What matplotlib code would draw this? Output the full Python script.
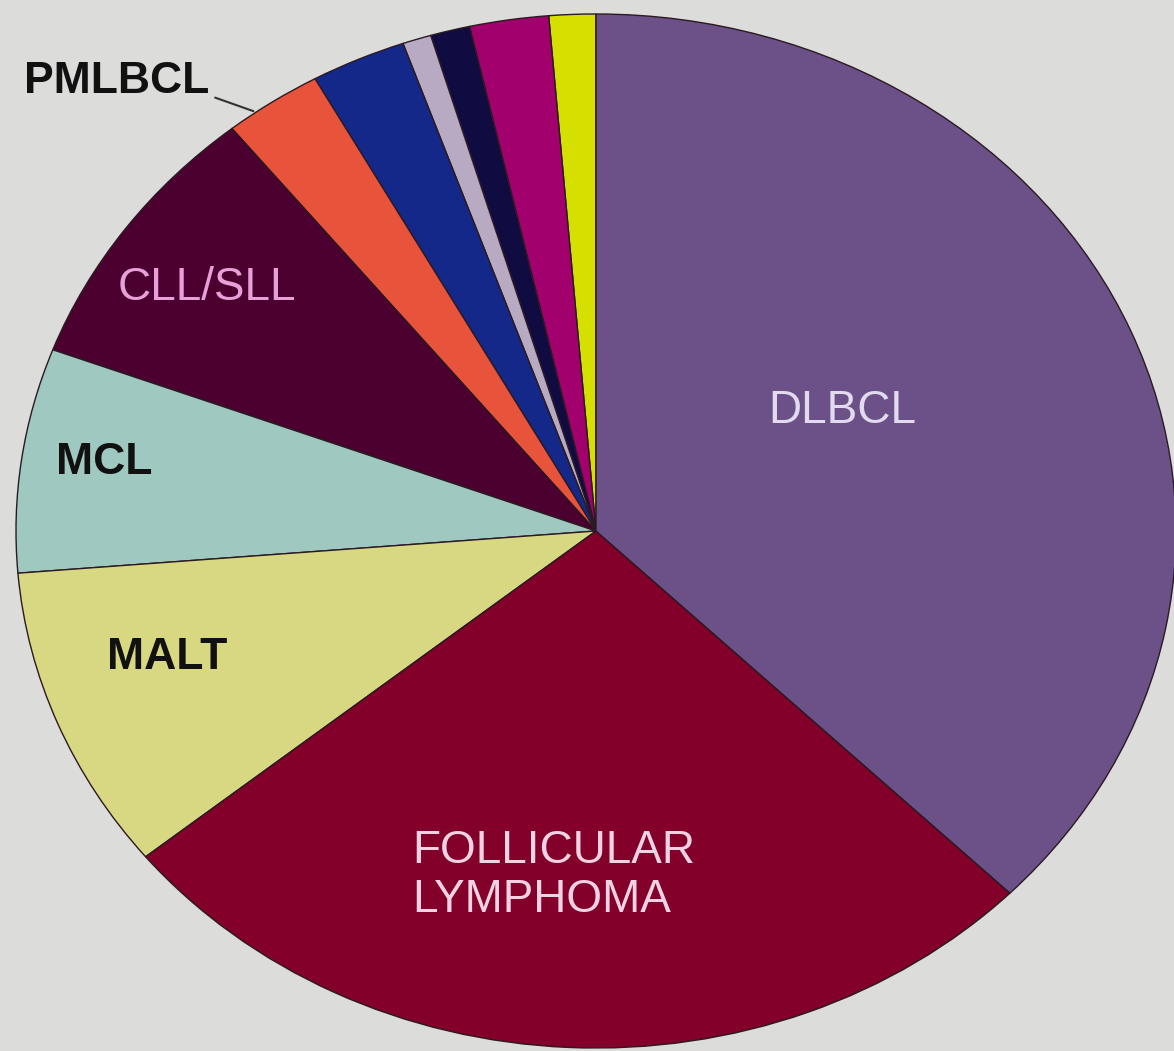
import numpy as np
import matplotlib
matplotlib.use("Agg")
import matplotlib.pyplot as plt

# lymphoma subtypes, percent of cases
# order: counter-clockwise from 12 o'clock
subtypes = ["other1", "other2", "other3", "other4", "other5",
            "PMLBCL", "CLL/SLL", "MCL", "MALT", "FOLLICULAR\nLYMPHOMA", "DLBCL"]
shares = [1.3, 2.2, 1.1, 0.8, 2.65, 2.75, 8.5, 7.0, 9.55, 26.8, 37.35]
colors = ["#d6e000", "#a2006c", "#100c42", "#b8aac2", "#14288a",
          "#e8533c", "#4b0030", "#9ec8c0", "#d8d882", "#82002a", "#6c5189"]

plt.rcParams['font.family'] = ['Liberation Sans', 'DejaVu Sans']

fig = plt.figure(figsize=(11.74, 10.51), dpi=100)
fig.patch.set_facecolor("#dcdcda")
ax = fig.add_axes([0, 0, 1, 1])
ax.set_facecolor("#dcdcda")

wedges, _ = ax.pie(shares, colors=colors, startangle=90, counterclock=True,
                   wedgeprops=dict(edgecolor="#2a1a22", linewidth=1.0))

# the original pie is stretched sideways
ax.set_aspect("auto")
ax.set_xlim(-596 / 580, (1174 - 596) / 580)
ax.set_ylim(-(1051 - 531) / 517, 531 / 517)
ax.axis("off")

light = 33
dark = 32
ax.text(0.717, 0.609, "DLBCL", transform=ax.transAxes, ha="center", va="center",
        fontsize=light, color="#e2daee")
ax.text(0.351, 0.167, "FOLLICULAR\nLYMPHOMA", transform=ax.transAxes, ha="left",
        va="center", fontsize=light, color="#f0d2e2", linespacing=1.15)
ax.text(0.142, 0.374, "MALT", transform=ax.transAxes, ha="center", va="center",
        fontsize=dark, color="#111111", fontweight="bold")
ax.text(0.089, 0.5595, "MCL", transform=ax.transAxes, ha="center", va="center",
        fontsize=dark, color="#111111", fontweight="bold")
ax.text(0.176, 0.726, "CLL/SLL", transform=ax.transAxes, ha="center", va="center",
        fontsize=light, color="#e8a0d8")
ax.text(0.099, 0.922, "PMLBCL", transform=ax.transAxes, ha="center", va="center",
        fontsize=dark, color="#111111", fontweight="bold")

# leader line from PMLBCL label to its wedge
w = wedges[5]
th = np.deg2rad(w.theta2 - 3)
ax.annotate("", xy=(np.cos(th), np.sin(th)), xycoords="data",
            xytext=(0.181, 0.908), textcoords="axes fraction",
            arrowprops=dict(arrowstyle="-", color="#333333", lw=1.5))

fig.savefig("out.png", dpi=100, facecolor=fig.get_facecolor())
